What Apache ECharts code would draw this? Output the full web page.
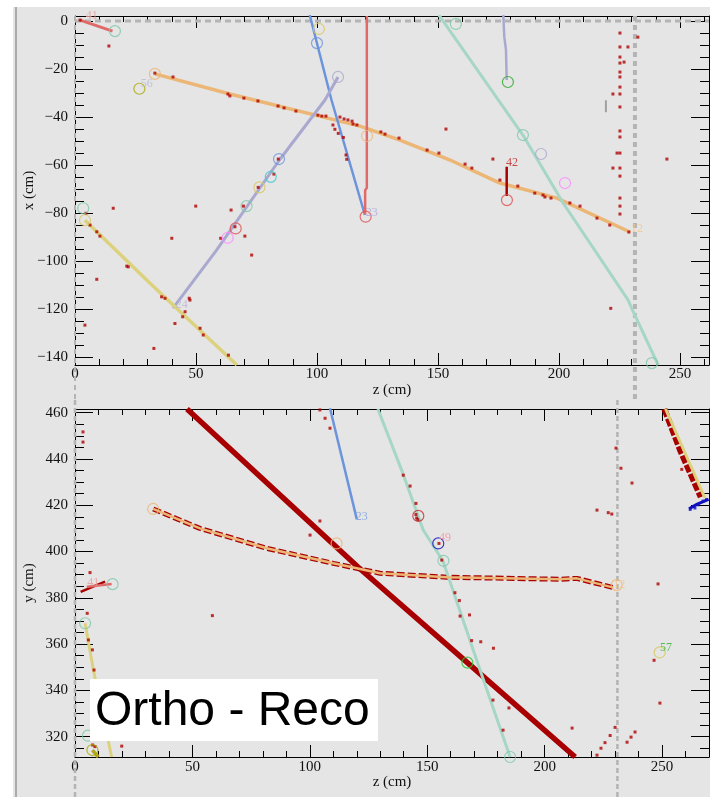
<!DOCTYPE html>
<html><head><meta charset="utf-8">
<script src="https://cdn.jsdelivr.net/npm/echarts@6/dist/echarts.min.js"></script>
<style>html,body{margin:0;padding:0;background:#fff}
#wrap{position:relative;width:710px;height:798px}
#a,#b{position:absolute;left:0;top:0;width:710px;height:798px}</style>
</head><body><div id="wrap"><div id="a"></div><div id="b"></div></div>
<script>
// ---------- axis ranges & tick labels ----------
const topZRange = [0, 262];
const topXRange = [-143.3, 2.1];
const botZRange = [0, 270];
const botYRange = [311.2, 461.6];
const topZLabels = [0, 50, 100, 150, 200, 250];
const topXLabels = [-140, -120, -100, -80, -60, -40, -20, 0];
const botZLabels = [0, 50, 100, 150, 200, 250];
const botYLabels = [320, 340, 360, 380, 400, 420, 440, 460];
const botYMinorFirst = 315;

// ---------- detector boundaries ----------
const boundTopH = [[0, 0], [262, 0]];
const boundTopV1 = [[231.4, 2.1], [231.4, -158]];
const boundTopV0 = [[0, 2.1], [0, -158]];
const boundBotV1 = [[231, 465.5], [231, 293.5]];
const boundBotV0 = [[0, 465.5], [0, 293.5]];

// ---------- top view (z, x) tracks ----------
const trkTopRed1 = [[2.1, 0.4], [15.5, -4.2]];
const trkTopOrange = [[33, -22], [64, -30.4], [117.8, -43.8], [134.3, -49.6], [155, -57.9], [175.6, -67.5], [199.2, -73.8], [229.3, -87.9]];
const trkTopBlue = [[97, 2.5], [106, -32.9], [119.8, -80.8]];
const trkTopRed2 = [[120.6, 2.1], [120.6, -69.5], [119.9, -70.5], [119.9, -80.5]];
const trkTopLav1 = [[40.5, -119.6], [58.5, -95.4], [84.4, -58], [103.3, -32.9], [108.7, -23.3]];
const trkTopYellow = [[4.1, -83], [31, -109.2], [66.9, -143.3]];
const trkTopLav2 = [[177, 2.5], [177.4, -6.5], [178.1, -12], [178.4, -24.6]];
const trkTopDarkRed = [[178.4, -60.7], [178.4, -72.9]];
const trkTopTeal = [[150.4, 2.5], [185.1, -47.5], [201.7, -75.8], [228.6, -116.3], [230.4, -120.4], [241, -143.3]];
const trkTopGray = [[219.4, -33], [219.4, -38]];

// ---------- top view circles ----------
const cirTopTeal = [[16.5, -4.2], [157.4, -1.2], [185.1, -47.5], [238.4, -142.5], [70.9, -77.1], [3.4, -78]];
const cirTopOrange = [[33, -22], [120.7, -47.9]];
const cirTopOlive = [[26.6, -28.2]];
const cirTopLav = [[108.7, -23.3], [192.6, -55.4]];
const cirTopYellow = [[100.8, -3.3], [76.2, -69.3], [4.1, -83]];
const cirTopBlue = [[100, -9.2], [84.3, -57.5]];
const cirTopRed = [[120.1, -81.5], [66.4, -86.4], [178.5, -74.6]];
const cirTopMagenta = [[63.1, -90.3], [202.5, -67.5]];
const cirTopCyan = [[80.9, -64.9]];
const cirTopGreen = [[178.9, -25.4]];

// ---------- top view tags ----------
const tagTop = [[6.9, 2.1, '41'], [29.6, -26, '56'], [122.6, -80.1, '23'], [179, 2.9, '35'], [180.6, -59.2, '42'], [232.2, -86.7, '12'], [44.1, -118.3, '24']];
const tagTopColors = ['#e89a9a', '#b8b8d8', '#a8a8dc', '#9898c0', '#c02020', '#f0c890', '#b8b8d8'];

// ---------- top view hits ----------
const hitsTop = [
[2.1,0.4],[14,-10.4],
[33,-21.7],[40.5,-23.3],[63.2,-30.4],[64,-31.2],[69.8,-32.1],[75.6,-33.3],[83.9,-35.4],[86.4,-36.2],[91.3,-37.5],[100.4,-39.2],[102,-39.6],[103.7,-39.6],[109.5,-40],[111.2,-40.8],[112.8,-41.2],[114.5,-41.7],
[106.6,-43.3],[107.4,-45.1],[108.8,-46.8],[110.9,-48.5],[112,-55.8],[112.3,-57.6],
[114.9,-42.9],[116.5,-43.3],[126.4,-46.2],[128.1,-47.1],[133.9,-48.75],[145.5,-53.75],[150.4,-55],[161.2,-59.6],[164,-61.25],[175.6,-66.25],[183,-68.75],[190,-71.7],[194.2,-73.3],[196.7,-73.75],
[153.3,-45],[172.7,-57.5],
[225.2,-5],[225.2,-10.8],[225.2,-15],[225.2,-17.5],[225.2,-21.25],[225.2,-23.3],[225.2,-27.5],[225.2,-30.4],[225.2,-35.8],[225.2,-45.8],[225.2,-48.3],[225.2,-55],[225.2,-61.25],[225.2,-64.6],[225.2,-73.75],[225.2,-77.1],[225.2,-80.4],
[232.6,-6.7],[226.9,-17.1],[228.5,-10.8],[224,-55],[222.3,-61.25],[222.3,-30.4],[244.6,-57.5],[221.4,-119.7],
[193.4,-72.5],[204.5,-75.8],[208.7,-77.1],[215.7,-82.1],[221,-85],[228.9,-87.9],
[84,-57.5],[82.2,-63.75],[75.7,-69.3],[69.6,-77.1],[66.1,-85.7],[60.2,-90.5],[49.9,-77.1],[64.5,-78.75],[70.2,-89.6],
[4.5,-80.1],[15.8,-78],[9,-107.6],[4.1,-126.7],[22,-102.4],[32.6,-136.4],[40,-90.5],[41.3,-126],[73,-97.5],[63.4,-139.2],[47.5,-116.25],[45.5,-121.1],[51.7,-128],[53,-130.8],[37.2,-115.5],[35.8,-114.9],[47.2,-115.5],[44.5,-123.2],
[6.2,-85],[9,-87.8],[10.3,-89.6],[21.4,-102.1]
];

// ---------- side view (z, y) tracks ----------
const trkBotBand = [[47.7, 461.6], [120.5, 393.3], [171.6, 348], [213, 311.2]];
const trkBotOrange = [[33.3, 418.4], [53.2, 410], [81.6, 401.4], [110, 394.9], [129.9, 390.6], [158.3, 388.9], [206.6, 388], [213.7, 388.4], [229.3, 384.4]];
const trkBotBlue = [[108.6, 461.9], [120, 414]];
const trkBotTeal = [[129, 461.6], [139.1, 435.2], [148.3, 409.3], [156.7, 395.9], [172.5, 348.8], [185.3, 311.2]];
const trkBotYellowR = [[251.5, 461.6], [268.3, 423.1]];
const trkBotRedR = [[251, 461.6], [257.7, 443.8], [266.5, 423.5]];
const trkBotBlueR = [[261.5, 418.5], [265, 420.5], [269.8, 422.5]];
const trkBotRedL = [[2.4, 382.6], [12.8, 387]];
const trkBotLightRedL = [[5, 384.8], [15.6, 386]];
const trkBotYellowL = [[4.3, 369], [7.8, 349], [15.6, 311.2]];
const trkBotOliveL = [[7.4, 314.2], [9.9, 311.2]];

// ---------- side view circles ----------
const cirBotTeal = [[156.9, 396], [185.3, 311.2], [16, 385.9], [4.3, 369], [5.5, 320.4]];
const cirBotOrange = [[33.3, 418.4], [111.4, 403.5], [230.7, 385.5]];
const cirBotRed = [[146.2, 415.4]];
const cirBotDarkBlue = [[154.7, 403.5]];
const cirBotGreen = [[167.1, 352]];
const cirBotYellow = [[249, 356.4]];
const cirBotOlive = [[7.4, 314.2]];

// ---------- side view tags ----------
const tagBot = [[122.1, 415, '23'], [157.6, 405.7, '49'], [231.8, 385.5, '12'], [251.7, 358.4, '57'], [7.8, 386.3, '41']];
const tagBotColors = ['#7a9ce0', '#f090a0', '#f0c890', '#30b030', '#e89a9a'];

// ---------- side view hits ----------
const hitsBot = [
[230.4,444.7],[232.5,436],[237.2,429.6],[222.3,417.9],[227.1,416.8],[228.6,416.2],[248.3,386],[211.7,323.7],[249.1,334.5],[246.6,353],
[222.3,312],[224,315],[225.7,317.4],[227.9,320.5],[230,324],[235.1,317.6],[236.8,319.8],[238.5,322],
[139.8,433],[142.7,428.3],[145.2,420.8],[156.2,396.3],[161.8,382.2],[163.7,378.8],[164,372.1],[168,372.6],[168.9,361.5],[172.8,361],[178.2,358.2],[184.8,332.4],[178,335.8],[182.3,322.8],
[104.3,413.2],[100.1,407.1],[104.3,461.2],[106.5,457.6],[108.6,453.3],
[3.4,451.7],[3.4,447.3],[6.4,390.9],[5.2,373.3],[58.5,372.3],[19.9,315.9],[5.7,361.8],[7.4,357.5],[8.1,348.8],[7.5,316.4],[8.5,315.7],
[145.2,416],[145.5,414.5],[146,413.8],[155,403.5],[258.4,435.5]
];
const hitsBotBlue = [[262,418.2],[263.5,419.5],[265.5,420.2],[267.5,421.8],[269,422.5],[264,418.8]];

// ================= layout & styles =================
const SERIF = '"Liberation Serif", "DejaVu Serif", serif';
const fmt = v => String(v).replace('-', '\u2212');
const G_TOP = { left: 75, right: 1, top: 16, height: 349, outerBoundsMode: 'none', containLabel: false };
const G_BOT = { left: 75, right: 1, top: 409, height: 348, outerBoundsMode: 'none', containLabel: false };
// tick grids share the panels' scale but span exactly the labelled range
function subGrid(g, range, lo, hi) {
  const k = g.height / (range[1] - range[0]);
  return { left: g.left, right: g.right, top: g.top + (range[1] - hi) * k, height: (hi - lo) * k, outerBoundsMode: 'none', containLabel: false };
}
const last = a => a[a.length - 1];
const G_TOP_T = subGrid(G_TOP, topXRange, topXLabels[0], last(topXLabels));
const G_BOT_T = subGrid(G_BOT, botYRange, botYLabels[0], last(botYLabels));
const G_BOT_M = subGrid(G_BOT, botYRange, botYMinorFirst, last(botYLabels));
const G_TOP_X = Object.assign({}, G_TOP);
const G_BOT_X = Object.assign({}, G_BOT);

const black = () => ({ color: '#000', width: 1 });
const labelStyle = { fontFamily: SERIF, fontSize: 15, color: '#111', formatter: fmt };
const nameStyle = { fontFamily: SERIF, fontSize: 15, color: '#111' };
function hidden(grid, min, max) { return { type: 'value', gridIndex: grid, min: min, max: max, show: false }; }
function frame(grid, pos, min, max, o) {
  o = o || {};
  const lab = o.label ? Object.assign({ show: true, margin: o.margin }, labelStyle) : { show: false };
  if (o.labels) lab.customValues = o.labels;
  return {
    type: 'value', gridIndex: grid, position: pos, min: min, max: max, interval: o.interval,
    axisLine: { show: o.line !== false, onZero: false, lineStyle: black() },
    axisTick: { show: !!o.tick, inside: true, length: o.tick || 0, lineStyle: black() },
    minorTick: { show: !!o.minor, splitNumber: o.split || 5, length: o.minor || 0, lineStyle: black() },
    axisLabel: lab,
    splitLine: { show: false }, minorSplitLine: { show: false },
    name: o.name || '', nameLocation: 'middle', nameGap: o.gap || 0, nameMoveOverlap: false, nameTextStyle: nameStyle
  };
}
const xTicks = { line: false, interval: 50, tick: 12, minor: 6, split: 5 };

// ---------- layer A: frame, ticks, labels ----------
const chartA = echarts.init(document.getElementById('a'), null, { renderer: 'canvas', width: 710, height: 798 });
chartA.setOption({
  animation: false,
  backgroundColor: '#e5e5e5',
  grid: [G_TOP, G_TOP_T, G_BOT, G_BOT_T, G_BOT_M, G_TOP_X, G_BOT_X],
  xAxis: [
    frame(0, 'bottom', topZRange[0], topZRange[1], { label: true, labels: topZLabels, margin: 2, name: 'z (cm)', gap: 18 }),
    frame(0, 'top', topZRange[0], topZRange[1]),
    hidden(1, topZRange[0], topZRange[1]),
    frame(2, 'bottom', botZRange[0], botZRange[1], { label: true, labels: botZLabels, margin: 3, name: 'z (cm)', gap: 18 }),
    frame(2, 'top', botZRange[0], botZRange[1]),
    hidden(3, botZRange[0], botZRange[1]),
    hidden(4, botZRange[0], botZRange[1]),
    frame(5, 'bottom', topZRange[0], topZRange[1], xTicks),
    frame(5, 'top', topZRange[0], topZRange[1], xTicks),
    frame(6, 'bottom', botZRange[0], botZRange[1], xTicks),
    frame(6, 'top', botZRange[0], botZRange[1], xTicks)
  ],
  yAxis: [
    frame(0, 'left', topXRange[0], topXRange[1], { name: 'x (cm)', gap: 38 }),
    frame(0, 'right', topXRange[0], topXRange[1]),
    frame(1, 'left', topXLabels[0], last(topXLabels), { line: false, interval: 20, tick: 18, minor: 9, split: 4, label: true, margin: 7 }),
    frame(1, 'right', topXLabels[0], last(topXLabels), { line: false, interval: 20, tick: 18, minor: 9, split: 4 }),
    frame(2, 'left', botYRange[0], botYRange[1], { name: 'y (cm)', gap: 38 }),
    frame(2, 'right', botYRange[0], botYRange[1]),
    frame(3, 'left', botYLabels[0], last(botYLabels), { line: false, interval: 20, tick: 18, label: true, margin: 7 }),
    frame(3, 'right', botYLabels[0], last(botYLabels), { line: false, interval: 20, tick: 18 }),
    frame(4, 'left', botYMinorFirst, last(botYLabels), { line: false, interval: 5, tick: 9 }),
    frame(4, 'right', botYMinorFirst, last(botYLabels), { line: false, interval: 5, tick: 9 }),
    hidden(5, topXRange[0], topXRange[1]),
    hidden(6, botYRange[0], botYRange[1])
  ],
  graphic: { elements: [
    { type: 'rect', shape: { x: 0, y: 0, width: 710, height: 7 }, style: { fill: '#fff' }, silent: true },
    { type: 'rect', shape: { x: 0, y: 0, width: 13, height: 798 }, style: { fill: '#fff' }, silent: true },
    { type: 'rect', shape: { x: 0, y: 797, width: 710, height: 1 }, style: { fill: '#fff' }, silent: true },
    { type: 'rect', shape: { x: 15, y: 7, width: 2, height: 790 }, style: { fill: '#ababab' }, silent: true }
  ] }
});

// ---------- layer B: event data ----------
const C = {
  hit: '#b00000', band: '#a80000', lightRed: '#e06a6a', orange: '#ebb676', blue: '#6c94dc',
  lav: '#a9a9d0', teal: '#a6d6c6', yellow: '#dcd27e', green: '#28a828', olive: '#a8a800',
  magenta: '#ff88ff', cyan: '#40c8d0', darkBlue: '#1010c0', red: '#e05050', gray: '#b4b4b4',
  circTeal: '#7cc8a8', circYellow: '#d8c860'
};
const series = [];
function ax(p) { return p === 0 ? { xAxisIndex: 0, yAxisIndex: 0 } : { xAxisIndex: 1, yAxisIndex: 1 }; }
function line(p, data, color, width, opt) {
  opt = opt || {};
  series.push(Object.assign({
    type: 'line', data: data, symbol: 'none', silent: true, animation: false,
    lineStyle: { color: color, width: width, type: opt.dash || 'solid', cap: 'butt' },
    z: opt.z || 2, clip: opt.clip !== undefined ? opt.clip : true
  }, ax(p)));
}
function circles(p, data, color) {
  series.push(Object.assign({
    type: 'scatter', data: data, symbol: 'circle', symbolSize: 11, silent: true, animation: false,
    itemStyle: { color: 'rgba(0,0,0,0)', borderColor: color, borderWidth: 1.2 }, z: 5
  }, ax(p)));
}
function hits(p, data, color) {
  series.push(Object.assign({
    type: 'scatter', data: data, symbol: 'rect', symbolSize: 3, silent: true, animation: false,
    itemStyle: { color: color }, z: 4
  }, ax(p)));
}
function tags(p, data, colors) {
  series.push(Object.assign({
    type: 'scatter', symbolSize: 1, silent: true, animation: false, z: 6,
    itemStyle: { color: 'rgba(0,0,0,0)' },
    data: data.map((d, i) => ({ value: [d[0], d[1]], name: d[2], label: { color: colors[i] } })),
    label: { show: true, position: 'inside', formatter: '{b}', fontFamily: SERIF, fontSize: 12 }
  }, ax(p)));
}

line(0, boundTopH, C.gray, 3, { dash: [6, 4], z: 1 });
line(0, boundTopV1, C.gray, 4, { dash: [5, 4], z: 1, clip: false });
line(0, boundTopV0, C.gray, 2, { dash: [5, 4], z: 1, clip: false });
line(1, boundBotV1, C.gray, 2.5, { dash: [5, 3], z: 1, clip: false });
line(1, boundBotV0, C.gray, 2.5, { dash: [5, 3], z: 1, clip: false });

line(0, trkTopRed1, C.lightRed, 3);
line(0, trkTopOrange, C.orange, 3.5);
line(0, trkTopBlue, C.blue, 2.5);
line(0, trkTopRed2, C.lightRed, 2.5);
line(0, trkTopLav1, C.lav, 3);
line(0, trkTopYellow, C.yellow, 3.5);
line(0, trkTopLav2, C.lav, 2.5);
line(0, trkTopDarkRed, C.band, 2.5);
line(0, trkTopTeal, C.teal, 3);
line(0, trkTopGray, '#a0a0a0', 2);
hits(0, hitsTop, C.hit);
circles(0, cirTopTeal, C.circTeal);
circles(0, cirTopOrange, C.orange);
circles(0, cirTopOlive, C.olive);
circles(0, cirTopLav, C.lav);
circles(0, cirTopYellow, C.circYellow);
circles(0, cirTopBlue, C.blue);
circles(0, cirTopRed, C.red);
circles(0, cirTopMagenta, C.magenta);
circles(0, cirTopCyan, C.cyan);
circles(0, cirTopGreen, C.green);
tags(0, tagTop, tagTopColors);

line(1, trkBotBand, C.band, 5.5);
line(1, trkBotOrange, C.band, 5, { dash: [8, 3] });
line(1, trkBotOrange, C.orange, 2.5, { z: 3 });
line(1, trkBotBlue, C.blue, 2.5);
line(1, trkBotTeal, C.teal, 3);
line(1, trkBotRedR, C.band, 6, { dash: [8, 2] });
line(1, trkBotYellowR, C.yellow, 3, { z: 3 });
line(1, trkBotBlueR, C.darkBlue, 3);
line(1, trkBotRedL, C.band, 2.5);
line(1, trkBotLightRedL, C.lightRed, 2.5);
line(1, trkBotYellowL, C.yellow, 3);
line(1, trkBotOliveL, '#b0a820', 3.5);
hits(1, hitsBot, C.hit);
hits(1, hitsBotBlue, C.darkBlue);
circles(1, cirBotTeal, C.circTeal);
circles(1, cirBotOrange, C.orange);
circles(1, cirBotRed, '#c03030');
circles(1, cirBotDarkBlue, C.darkBlue);
circles(1, cirBotGreen, '#30c030');
circles(1, cirBotYellow, C.circYellow);
circles(1, cirBotOlive, C.olive);
tags(1, tagBot, tagBotColors);

const chartB = echarts.init(document.getElementById('b'), null, { renderer: 'canvas', width: 710, height: 798 });
chartB.setOption({
  animation: false,
  backgroundColor: 'rgba(0,0,0,0)',
  grid: [G_TOP, G_BOT],
  xAxis: [hidden(0, topZRange[0], topZRange[1]), hidden(1, botZRange[0], botZRange[1])],
  yAxis: [hidden(0, topXRange[0], topXRange[1]), hidden(1, botYRange[0], botYRange[1])],
  series: series,
  graphic: { elements: [
    { type: 'rect', shape: { x: 90, y: 679, width: 288, height: 62 }, style: { fill: '#fff' }, z: 100, silent: true },
    { type: 'text', x: 95, y: 712, z: 101, silent: true,
      style: { text: 'Ortho - Reco', font: '48px "Liberation Sans", Arial, sans-serif', fill: '#000', verticalAlign: 'middle', align: 'left' } }
  ] }
});
</script>
</body></html>
